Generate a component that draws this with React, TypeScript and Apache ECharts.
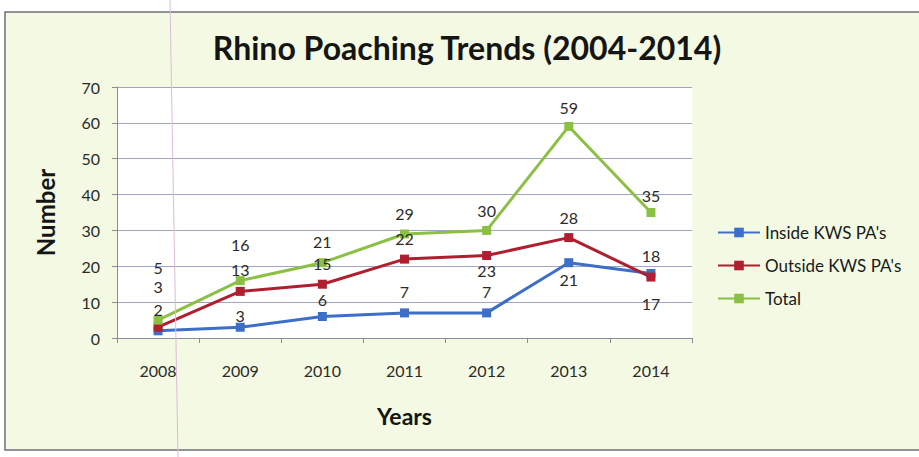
import React, { useEffect, useRef } from "react";
import * as echarts from "echarts";

// Years on the category axis
const years = ["2008", "2009", "2010", "2011", "2012", "2013", "2014"];

// Rhinos poached per year
const insideKws = [2, 3, 6, 7, 7, 21, 18];
const outsideKws = [3, 13, 15, 22, 23, 28, 17];
const totals = [5, 16, 21, 29, 30, 59, 35];

// Vertical nudges (px) for each value label, relative to its point
const insideLabelDy = [-21, -12, -17, -21, -21, 17, -18];
const outsideLabelDy = [-41, -22, -21, -21, 15, -20, 26];
const totalLabelDy = [-53, -36, -21, -21, -20, -19, -17];

const FONT = "Lato, 'Open Sans', sans-serif";

function makeSeries(name: string, values: number[], dys: number[], color: string) {
  return {
    name,
    type: "line",
    symbol: "rect",
    symbolSize: 9,
    lineStyle: { width: 3, color },
    itemStyle: { color },
    data: values.map((v, i) => ({
      value: v,
      label: { offset: [0, dys[i]] },
    })),
    label: {
      show: true,
      position: "inside",
      fontFamily: FONT,
      fontSize: 16,
      lineHeight: 17,
      color: "#2b2b2b",
    },
  };
}

export default function App() {
  const ref = useRef<HTMLDivElement>(null);

  useEffect(() => {
    if (!ref.current) return;
    const chart = echarts.init(ref.current, undefined, { renderer: "svg" });
    chart.setOption({
      animation: false,
      backgroundColor: "#ffffff",
      textStyle: { fontFamily: FONT },
      graphic: [
        {
          type: "rect",
          z: -10,
          silent: true,
          shape: { x: 5, y: 12, width: 930, height: 438 },
          style: { fill: "#f3f9e2", stroke: "#6f6f78", lineWidth: 1.5 },
        },
        {
          type: "text",
          x: 467,
          y: 47,
          z: 10,
          style: {
            text: "Rhino Poaching Trends (2004-2014)",
            fontFamily: FONT,
            fontWeight: "bold",
            fontSize: 32,
            fill: "#151515",
            align: "center",
            verticalAlign: "middle",
          },
        },
        {
          type: "line",
          z: 100,
          silent: true,
          shape: { x1: 170, y1: 0, x2: 178, y2: 457 },
          style: { stroke: "#dcbcd8", lineWidth: 1 },
        },
      ],
      grid: {
        left: 117,
        top: 87,
        width: 575,
        height: 251,
        show: true,
        backgroundColor: "#ffffff",
        borderWidth: 0,
      },
      legend: {
        orient: "vertical",
        left: 712,
        top: 219,
        itemWidth: 42,
        itemHeight: 12,
        itemGap: 16,
        textStyle: { fontFamily: FONT, fontSize: 17, color: "#1a1a1a" },
        data: ["Inside KWS PA's", "Outside KWS PA's", "Total"],
      },
      xAxis: {
        type: "category",
        data: years,
        boundaryGap: true,
        name: "Years",
        nameLocation: "middle",
        nameGap: 66,
        nameTextStyle: { fontFamily: FONT, fontWeight: "bold", fontSize: 23, color: "#151515" },
        axisLine: { lineStyle: { color: "#8a8a9a", width: 1 } },
        axisTick: { show: true, length: 5, lineStyle: { color: "#8a8a9a" } },
        axisLabel: { fontFamily: FONT, fontSize: 16, color: "#2b2b2b", margin: 24 },
      },
      yAxis: {
        type: "value",
        min: 0,
        max: 70,
        interval: 10,
        name: "Number",
        nameLocation: "middle",
        nameGap: 60,
        nameTextStyle: { fontFamily: FONT, fontWeight: "bold", fontSize: 24, color: "#151515" },
        axisLine: { show: true, lineStyle: { color: "#8a8a9a", width: 1 } },
        axisTick: { show: true, length: 5, lineStyle: { color: "#8a8a9a" } },
        axisLabel: { fontFamily: FONT, fontSize: 16, color: "#2b2b2b", margin: 17 },
        splitLine: { lineStyle: { color: "#a4a4c0", width: 1 } },
      },
      series: [
        makeSeries("Inside KWS PA's", insideKws, insideLabelDy, "#3d6fc8"),
        makeSeries("Outside KWS PA's", outsideKws, outsideLabelDy, "#b01f30"),
        makeSeries("Total", totals, totalLabelDy, "#8cc044"),
      ],
    });
    return () => chart.dispose();
  }, []);

  return (
    <div
      ref={ref}
      style={{ position: "fixed", left: 0, top: 0, width: 919, height: 457 }}
    />
  );
}
